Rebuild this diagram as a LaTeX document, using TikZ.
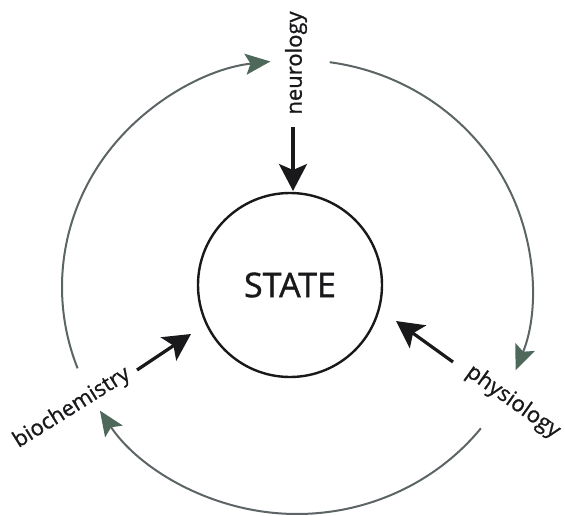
\documentclass[tikz,border=0pt]{standalone}
\usepackage{fontspec}
\setmainfont{Open Sans}
\usetikzlibrary{arrows.meta}
\definecolor{arcline}{RGB}{92,100,102}
\definecolor{archead}{RGB}{78,104,92}
\definecolor{ink}{RGB}{25,25,28}
\begin{document}
\begin{tikzpicture}[x=1pt,y=-1pt,
  cyc/.style={draw=arcline,line width=2pt,-{Stealth[length=25pt,width=21pt,inset=5pt,color=archead,fill=archead]}},
  push/.style={draw=ink,line width=3.2pt,-{Stealth[length=27pt,width=28pt,inset=6pt]}},
  lab/.style={text=ink,font=\fontsize{22}{24}\selectfont\addfontfeature{FakeBold=0.9},inner sep=0pt},
]
\useasboundingbox (0,0) rectangle (565,516);
% centre state
\node[draw=ink,text=ink,circle,line width=2.4pt,minimum size=184pt,inner sep=0pt,
      font=\fontsize{34}{36}\selectfont\addfontfeature{FakeBold=1.1}] (state) at (290,285) {STATE};
% labels
\node[lab,rotate=90] (neuro) at (296,63) {neurology};
\node[lab,rotate=-35.5] (physio) at (513,402) {physiology};
\node[lab,rotate=32] (biochem) at (72,408) {biochemistry};
% black arrow ends
\coordinate (ntail) at (293,127);
\coordinate (ntip) at (293,191);
\coordinate (ptail) at (453,362);
\coordinate (ptip) at (396,321);
\coordinate (btail) at (137,370);
\coordinate (btip) at (191,334);
\draw[push] (ntail) -- (ntip);
\draw[push] (ptail) -- (ptip);
\draw[push] (btail) -- (btip);
% cycle arcs
\coordinate (cc) at (297,287);
\draw[cyc] ([shift={(159:235 and 227)}]cc) arc[start angle=159,end angle=263.5,x radius=235,y radius=227];
\draw[cyc] ([shift={(278:235 and 227)}]cc) arc[start angle=278,end angle=381.5,x radius=235,y radius=227];
\draw[cyc] ([shift={(38.5:235 and 227)}]cc) arc[start angle=38.5,end angle=147,x radius=235,y radius=227];
\end{tikzpicture}
\end{document}
